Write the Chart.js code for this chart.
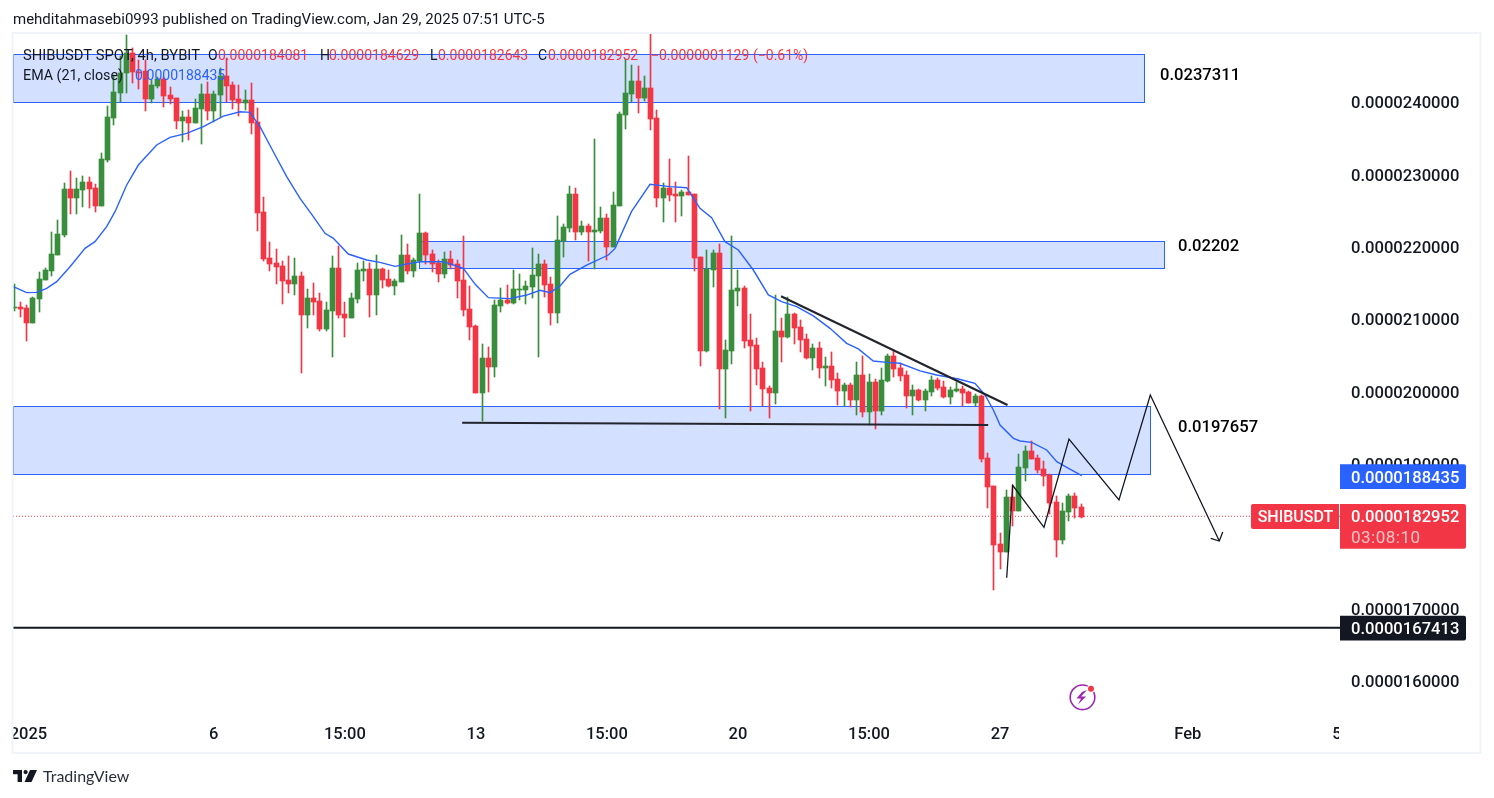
<!DOCTYPE html>
<html><head><meta charset="utf-8">
<style>html,body{margin:0;padding:0;background:#fff}canvas{display:block}</style>
<script src="https://cdn.jsdelivr.net/npm/chart.js@4"></script>
</head><body><canvas id="c" width="1494" height="798"></canvas>
<script>
// prices are in units of 0.000001 USDT; candle index 0 = 1 Jan 2025 00:00, one index = 4h
const firstCandle = -2;
const opens = [21.153,21.167,21.153,20.950,21.282,21.544,21.669,21.890,22.166,22.797,22.678,22.788,22.894,22.811,22.567,23.203,23.783,24.129,24.405,24.677,24.419,24.428,24.041,24.221,24.318,24.097,24.055,23.737,23.793,23.710,23.903,24.110,23.875,24.097,24.359,24.235,24.041,23.991,24.028,23.723,22.480,21.844,21.775,21.733,21.540,21.484,21.595,21.056,21.291,21.250,20.863,21.111,21.706,21.070,21.015,21.277,21.664,21.692,21.332,21.692,21.554,21.457,21.512,21.885,21.664,21.802,22.189,21.899,21.775,21.623,21.830,21.761,21.540,21.139,20.904,19.978,20.462,20.337,21.180,21.263,21.222,21.406,21.402,21.443,21.595,21.761,21.484,21.084,22.079,22.258,22.728,22.203,22.286,22.203,22.217,22.397,21.996,22.563,23.820,24.110,24.290,24.055,24.193,23.779,22.673,22.811,22.728,22.706,22.761,22.733,21.858,20.559,21.678,21.913,20.310,20.559,21.388,21.430,20.711,20.642,20.324,20.048,19.978,20.835,20.752,21.070,20.891,20.725,20.462,20.600,20.324,20.352,20.172,20.006,20.089,19.882,20.227,19.716,20.131,19.730,20.144,20.490,20.324,20.227,19.937,20.020,19.882,19.992,20.158,20.061,19.923,20.006,20.034,19.992,19.840,19.937,19.080,18.693,17.891,17.781,18.541,18.347,18.942,19.177,19.080,18.928,18.845,18.472,17.947,18.334,18.555,18.403];
const closes = [21.171,21.144,20.950,21.291,21.554,21.678,21.899,22.176,22.797,22.678,22.797,22.894,22.802,22.567,23.212,23.793,24.138,24.405,24.677,24.419,24.405,24.041,24.235,24.318,24.083,24.041,23.737,23.793,23.710,23.912,24.110,23.875,24.110,24.359,24.221,24.028,23.991,24.028,23.710,22.466,21.830,21.761,21.719,21.526,21.484,21.595,21.056,21.291,21.236,20.863,21.125,21.706,21.056,21.015,21.291,21.678,21.692,21.332,21.692,21.540,21.457,21.526,21.885,21.664,21.816,22.189,21.885,21.761,21.623,21.830,21.747,21.526,21.125,20.890,19.978,20.462,20.337,21.194,21.263,21.222,21.415,21.420,21.457,21.609,21.761,21.471,21.084,22.093,22.272,22.728,22.203,22.286,22.203,22.231,22.397,21.996,22.576,23.834,24.124,24.290,24.055,24.193,23.765,22.673,22.811,22.715,22.701,22.761,22.720,21.849,20.559,21.692,21.913,20.310,20.573,21.402,21.430,20.697,20.628,20.310,20.034,19.978,20.835,20.752,21.070,20.877,20.711,20.462,20.600,20.324,20.352,20.158,20.006,20.089,19.882,20.227,19.716,20.131,19.730,20.158,20.490,20.310,20.213,19.937,20.020,19.882,20.006,20.158,20.048,19.923,20.020,20.034,19.978,19.840,19.937,19.066,18.679,17.878,17.781,18.541,18.347,18.956,19.177,19.066,18.914,18.831,18.458,17.947,18.347,18.555,18.389,18.265];
const highs = [21.484,21.240,21.190,21.309,21.646,21.701,22.203,22.369,22.880,23.046,22.945,22.977,22.963,22.867,23.295,23.945,24.373,24.636,24.926,24.742,24.580,24.580,24.304,24.350,24.350,24.212,24.055,23.875,23.889,24.037,24.244,24.272,24.152,24.465,24.603,24.281,24.235,24.166,24.267,23.922,22.687,22.065,21.968,21.802,21.871,21.844,21.650,21.415,21.498,21.360,21.236,21.871,22.010,21.236,21.360,21.770,21.802,21.775,21.885,21.706,21.678,21.554,22.162,22.037,21.844,22.728,22.203,21.954,21.816,21.927,21.941,21.816,22.148,21.457,20.918,20.655,20.614,21.263,21.429,21.471,21.678,21.623,21.526,21.982,21.899,21.816,21.581,22.424,22.314,22.839,22.811,22.355,22.314,23.489,22.549,22.452,22.756,23.862,24.594,24.511,24.497,24.359,24.940,23.889,22.880,23.212,22.894,22.784,23.254,22.733,21.858,21.955,21.955,22.038,20.711,22.148,21.678,21.457,21.070,20.739,20.407,20.075,21.333,21.015,21.305,21.084,20.987,20.794,20.656,20.683,20.476,20.545,20.255,20.117,20.117,20.407,20.490,20.241,20.172,20.324,20.518,20.559,20.393,20.283,20.089,20.034,20.034,20.213,20.186,20.144,20.061,20.131,20.075,20.006,19.965,19.951,19.149,18.693,18.043,18.638,18.707,19.135,19.246,19.315,19.121,19.038,18.859,18.555,18.458,18.582,18.596,18.444];
const lows = [21.116,21.033,20.701,20.950,21.102,21.544,21.600,21.890,22.139,22.457,22.457,22.553,22.539,22.484,22.567,23.171,23.687,23.995,24.129,24.267,24.180,23.880,23.991,24.198,23.935,23.972,23.627,23.447,23.475,23.710,23.424,23.751,23.728,23.797,24.000,23.899,23.806,23.889,23.558,22.217,21.802,21.664,21.484,21.208,21.360,21.332,20.254,20.876,21.056,20.835,20.835,20.476,21.015,20.752,21.015,21.222,21.526,21.028,21.056,21.429,21.443,21.332,21.512,21.623,21.581,21.802,21.761,21.650,21.512,21.567,21.692,21.291,21.042,20.710,19.978,19.591,19.992,20.199,21.097,21.208,21.208,21.263,21.208,21.291,20.476,21.305,20.918,20.945,21.858,22.203,22.093,22.162,21.802,21.692,22.189,21.816,21.996,22.563,23.627,24.000,23.848,24.014,23.613,22.549,22.341,22.632,22.341,22.429,22.720,21.669,20.352,20.545,21.444,19.757,19.633,20.379,21.181,20.600,19.730,20.089,19.799,19.633,19.826,20.407,20.739,20.656,20.545,20.448,20.296,20.186,20.075,20.048,19.813,19.799,19.785,19.674,19.647,19.536,19.481,19.674,20.131,20.200,20.144,19.771,19.674,19.868,19.730,19.937,20.020,19.909,19.826,19.992,19.799,19.840,19.799,19.025,18.389,17.256,17.546,17.781,18.140,18.347,18.762,19.066,18.873,18.693,18.306,17.712,17.891,18.209,18.251,18.251];

const emaIdx = [-2.13,0.01,1.61,3.22,4.82,6.96,9.36,10.96,12.83,14.17,16.04,17.91,20.84,22.98,25.65,28.32,31.53,34.2,35.8,37.4,39.54,41.68,43.82,45.95,47.82,49.16,51.56,54.5,56.64,59.04,60.64,63.04,66.78,69.99,71.86,74.0,77.47,80.14,82.28,83.88,85.48,87.08,89.75,93.23,94.3,96.93,99.9,103.1,105.78,107.91,109.78,111.92,114.06,116.46,118.87,121.0,123.41,126.08,128.75,131.42,133.29,135.69,137.83,139.97,143.17,145.84,149.31,151.98,153.59,154.93,156.0,158.14,159.21,161.07,163.48,165.09,166.69,169.09];
const emaVal = [21.448,21.365,21.369,21.425,21.517,21.724,21.977,22.070,22.277,22.484,22.853,23.129,23.406,23.512,23.567,23.659,23.806,23.866,23.857,23.659,23.313,22.968,22.668,22.415,22.185,22.116,21.899,21.816,21.784,21.729,21.756,21.793,21.793,21.701,21.484,21.296,21.282,21.332,21.397,21.365,21.457,21.618,21.747,21.885,21.977,22.484,22.862,22.830,22.816,22.531,22.402,22.070,21.955,21.678,21.333,21.241,21.172,21.043,20.872,20.665,20.587,20.421,20.402,20.389,20.283,20.227,20.172,20.112,19.951,19.743,19.536,19.352,19.315,19.296,19.191,19.029,18.951,18.836];

const priceTicks = [16,17,18,19,20,21,22,23,24];
const timeTicks = [0.3,30,51,72,93,114,135,156,186.1,210];
const timeLabels = ['2025','6','15:00','13','15:00','20','15:00','27','Feb','5'];

// zones: [startIdx, endIdx, lowPrice, highPrice]; -3 means the pane's left edge
const zoneA = [-3,179.1,23.996,24.66];
const zoneB = [62.9,182.3,21.70,22.075];
const zoneC = [-3,180.1,18.853,19.793];
const zoneLabels = ['0.0237311','0.02202','0.0197657'];

const trendTopX = [120.9,157.2], trendTopY = [21.314,19.812];
const supportX = [69.8,154.1], supportY = [19.567,19.536];
const pathX = [157.07,158.03,163.04,167.05,175.06,180.08,191.14];
const pathY = [17.425,18.702,18.122,19.342,18.499,19.95,17.932];
const headX = [189.76,191.14,191.69], headY = [17.970,17.932,18.057];
// heights of the horizontal lines and price tags
const closeLine = 18.274, emaTagAt = 18.826, levelLine = 16.732;
const closeText = '0.0000182952', emaText = '0.0000188435', levelText = '0.0000167413';
const legendOHLC = [['O',208,218,'0.0000184081'],['H',320,329,'0.0000184629'],['L',430,438,'0.0000182643'],['C',538,548,closeText]];

const GREEN='#388e3c', RED='#f23645', BLUE='#2962ff', INK='#131722';
const FONT='Roboto, "Noto Sans", sans-serif';
const XMIN=-2.18, XMAX=210.48, YMIN=15.486, YMAX=24.954;
const px = v => (v/1e6).toFixed(10);
const xy = (xs,ys) => xs.map((x,i)=>({x,y:ys[i]}));
const idx = opens.map((_,i)=>firstCandle+i);
const colors = opens.map((o,i)=>closes[i]>=o?GREEN:RED);
const line = (data,color,width,order,extra={}) => Object.assign({type:'line',data,borderColor:color,borderWidth:width,pointRadius:0,tension:0,order,fill:false},extra);

const snapBars = {id:'snapBars',afterDatasetsUpdate(ch){
  ch.data.datasets.forEach((d,n)=>{ if(d.type!=='bar') return;
    ch.getDatasetMeta(n).data.forEach(el=>{
      el.x=Math.round(el.x-.5)+.5;
      const a=Math.round(el.y), b=Math.round(el.base);
      el.y=a; el.base=(a===b)?a+1:b;
    });
  });
}};
const zones = {id:'zones',beforeDatasetsDraw(ch){
  const {ctx,scales:{x,y},chartArea:ca}=ch;
  [zoneA,zoneB,zoneC].forEach(z=>{
    const l=Math.max(x.getPixelForValue(z[0]),ca.left), r=x.getPixelForValue(z[1]);
    const t=Math.round(y.getPixelForValue(z[3])), b=Math.round(y.getPixelForValue(z[2]));
    ctx.save();
    ctx.fillStyle='rgba(41,98,255,0.2)'; ctx.fillRect(l,t,r-l,b-t);
    ctx.strokeStyle=BLUE; ctx.lineWidth=1;
    ctx.strokeRect(Math.round(l)+.5,t+.5,Math.round(r-l),b-t);
    ctx.restore();
  });
}};
function tag(ctx,x,y,w,h,bg){ctx.fillStyle=bg;ctx.beginPath();ctx.roundRect(x,y,w,h,[0,2,2,0]);ctx.fill();}
function text(ctx,s,x,y,font,color,align='left',spacing='0px'){ctx.letterSpacing=spacing;ctx.font=font;ctx.fillStyle=color;ctx.textAlign=align;ctx.textBaseline='middle';ctx.fillText(s,x,y+2);ctx.letterSpacing='0px';}
const overlay = {id:'overlay',afterDraw(ch){
  const {ctx,scales:{y}}=ch;
  ctx.save();
  // masks clip the axis labels at pane edges
  ctx.fillStyle='#fff'; ctx.fillRect(0,720,13,30); ctx.fillRect(1339,720,12,30);
  // frame
  ctx.strokeStyle='#f0f3fa'; ctx.lineWidth=2; ctx.strokeRect(12.5,33,1468,720);
  // header
  text(ctx,'mehditahmasebi0993 published on TradingView.com, Jan 29, 2025 07:51 UTC-5',13,18,'15px '+FONT,INK);
  const L='14px '+FONT;
  text(ctx,'SHIBUSDT SPOT, 4h, BYBIT',23,54,'14.75px '+FONT,INK);
  legendOHLC.forEach(([k,kx,vx,val])=>{ text(ctx,k,kx,54,L,INK); text(ctx,val,vx,54,L,RED); });
  text(ctx,'\u22120.0000001129',651,54,L,RED);
  text(ctx,'(\u22120.61%)',753,54,L,RED);
  text(ctx,'EMA (21, close)',23,74,'14.3px '+FONT,INK);
  text(ctx,emaText,135,74,L,BLUE);
  // zone price notes
  const N='500 16.6px '+FONT;
  text(ctx,zoneLabels[0],1160,74,N,'#000');
  text(ctx,zoneLabels[1],1178,245,N,'#000');
  text(ctx,zoneLabels[2],1178,426,N,'#000');
  // price tags
  const T='500 16.6px '+FONT;
  let p=y.getPixelForValue(emaTagAt);
  tag(ctx,1340,p-12,126,24.7,BLUE); text(ctx,emaText,1351,p,T,'#fff');
  p=y.getPixelForValue(closeLine);
  tag(ctx,1340,p-12.3,126,44.7,RED); text(ctx,closeText,1351,p,T,'#fff');
  text(ctx,'03:08:10',1351,p+20.5,'17px '+FONT,'rgba(255,255,255,.7)','left','0.5px');
  ctx.fillStyle=RED; ctx.beginPath(); ctx.roundRect(1251,p-12.3,88,25,[2,0,0,2]); ctx.fill();
  text(ctx,'SHIBUSDT',1295.5,p,'500 16px '+FONT,'#fff','center');
  p=y.getPixelForValue(levelLine);
  tag(ctx,1340,p-12,126,24.7,INK); text(ctx,levelText,1351,p,T,'#fff');
  // lightning badge
  ctx.strokeStyle='#9c27b0'; ctx.lineWidth=1.6; ctx.beginPath(); ctx.arc(1082.5,697.3,12.3,0,Math.PI*2); ctx.stroke();
  ctx.fillStyle='#9c27b0'; ctx.beginPath();
  [[1087,690],[1081,696.5],[1086,696.5],[1078,704.5],[1081,698.5],[1076.5,698.5],[1082,692]].forEach((q,i)=>i?ctx.lineTo(q[0],q[1]):ctx.moveTo(q[0],q[1]));
  ctx.closePath(); ctx.fill();
  ctx.fillStyle='#fff'; ctx.beginPath(); ctx.arc(1091,688.7,4.3,0,Math.PI*2); ctx.fill();
  ctx.fillStyle=RED; ctx.beginPath(); ctx.arc(1091,688.7,3,0,Math.PI*2); ctx.fill();
  // TradingView footer
  ctx.fillStyle=INK;
  ctx.fillRect(13,770,9,4.2); ctx.fillRect(17.6,770,4.4,12);
  ctx.beginPath(); ctx.arc(25.6,772.1,2.1,0,Math.PI*2); ctx.fill();
  ctx.beginPath(); ctx.moveTo(30,770); ctx.lineTo(37,770); ctx.lineTo(31.5,782); ctx.lineTo(24.5,782); ctx.closePath(); ctx.fill();
  text(ctx,'TradingView',43,774.5,'16px Lato, '+FONT,'#2a2e39');
  ctx.restore();
}};

new Chart(document.getElementById('c'),{
  type:'bar',
  data:{datasets:[
    {type:'bar',label:'wick',data:idx.map((x,i)=>({x,y:[lows[i],highs[i]]})),backgroundColor:colors,barThickness:1,grouped:false,order:6,borderSkipped:false},
    {type:'bar',label:'body',data:idx.map((x,i)=>({x,y:[opens[i],closes[i]]})),backgroundColor:colors,barThickness:5,grouped:false,order:5,borderSkipped:false},
    line(xy([XMIN,XMAX],[closeLine,closeLine]),RED,1,7,{borderDash:[1,2]}),
    line(xy([XMIN,XMAX],[levelLine,levelLine]),INK,2,2),
    line(xy(emaIdx,emaVal),BLUE,1.4,4),
    line(xy(trendTopX,trendTopY),'#22252e',2.2,3),
    line(xy(supportX,supportY),'#22252e',2.2,3),
    line(xy(pathX,pathY),INK,1.3,1),
    line(xy(headX,headY),INK,1.3,1)
  ]},
  plugins:[snapBars,zones,overlay],
  options:{
    responsive:false,animation:false,devicePixelRatio:1,
    layout:{padding:{left:13,top:33,right:14,bottom:45}},
    plugins:{legend:{display:false},tooltip:{enabled:false}},
    scales:{
      x:{type:'linear',min:XMIN,max:XMAX,offset:false,
        grid:{display:false},border:{display:false},
        afterBuildTicks:s=>{s.ticks=timeTicks.map(value=>({value}));},
        afterFit:s=>{s.height=35;},
        ticks:{autoSkip:false,maxRotation:0,padding:-1,color:INK,font:{family:FONT,size:16.5,weight:'500'},callback:(v,i)=>timeLabels[i]}
      },
      y:{type:'linear',position:'right',min:YMIN,max:YMAX,
        grid:{display:false,drawTicks:false},border:{display:false},
        afterBuildTicks:s=>{s.ticks=priceTicks.map(value=>({value}));},
        afterFit:s=>{s.width=140;},
        ticks:{autoSkip:false,padding:11,labelOffset:2,color:INK,font:{family:FONT,size:16.6,weight:'500'},callback:v=>px(v)}
      }
    }
  }
});
</script></body></html>
